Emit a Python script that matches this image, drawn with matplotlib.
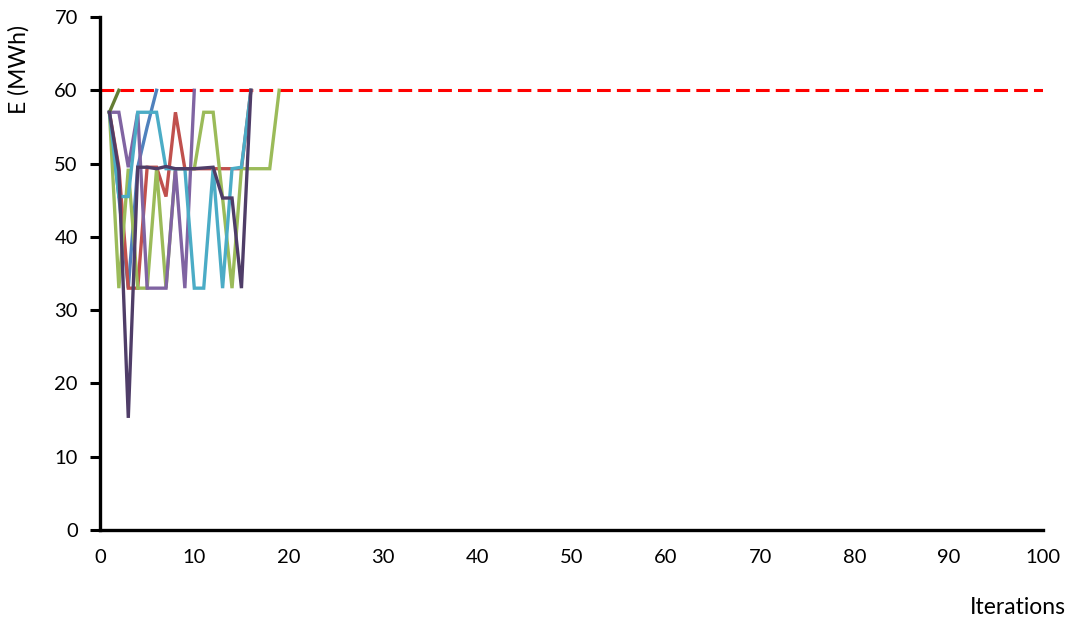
import matplotlib
matplotlib.use("Agg")
import matplotlib.pyplot as plt

# Energy per iteration for each run (MWh)
run_blue = [57, 45.5, 33, 49.5, 55, 60]
run_red = [57, 49.5, 33, 33, 49.5, 49.5, 45.5, 57, 49.3, 49.3, 49.3, 49.3, 49.3, 49.3, 49.3, 60]
run_green = [57, 33, 49.3, 33, 33, 49.3, 33, 49.3, 49.3, 49.3, 57, 57, 45.3, 33, 49.3, 49.3, 49.3, 49.3, 60]
run_purple = [57, 57, 49.5, 57, 33, 33, 33, 49.3, 33, 60]
run_aqua = [57, 45.5, 45.5, 57, 57, 57, 49.3, 49.3, 49.3, 33, 33, 49.3, 33, 49.3, 49.5, 60]
run_olive = [57, 60]
run_dark = [57, 49.0, 15.3, 49.5, 49.5, 49.3, 49.6, 49.3, 49.3, 49.3, 49.4, 49.5, 45.3, 45.3, 33, 60]

energy_limit = 60
x_range = [0, 100]

series = [
    (run_blue, "#4F81BD"),
    (run_red, "#C0504D"),
    (run_green, "#9BBB59"),
    (run_purple, "#8064A2"),
    (run_aqua, "#4BACC6"),
    (run_olive, "#647D33"),
    (run_dark, "#4F3D68"),
]

plt.rcParams['font.family'] = ['Lato', 'DejaVu Sans']

fig = plt.figure(figsize=(10.76, 6.25), dpi=100)
ax = fig.add_axes([100 / 1076, 1 - 530 / 625, 943 / 1076, 513 / 625])

ax.plot(x_range, [energy_limit, energy_limit], color="#FF0000", lw=2.2,
        linestyle=(0, (4.5, 2)), zorder=2)

for values, color in series:
    iters = list(range(1, len(values) + 1))
    ax.plot(iters, values, color=color, lw=2.4, solid_joinstyle="miter", zorder=3)

ax.set_xlim(0, 100)
ax.set_ylim(0, 70)
ax.set_xticks(range(0, 101, 10))
ax.set_yticks(range(0, 71, 10))

for side in ("top", "right"):
    ax.spines[side].set_visible(False)
for side in ("left", "bottom"):
    ax.spines[side].set_linewidth(2.4)
    ax.spines[side].set_color("black")

ax.tick_params(axis="y", direction="out", length=7, width=2.2, pad=9, labelsize=14.5)
ax.tick_params(axis="x", length=0, pad=14, labelsize=14.5)

fig.text(19 / 1076, 1 - 69 / 625, "E (MWh)", rotation=90, ha="center", va="center", fontsize=16.5)
fig.text(1066 / 1076, 1 - 607 / 625, "Iterations", ha="right", va="center", fontsize=16.5)

fig.savefig("out.png", dpi=100)
